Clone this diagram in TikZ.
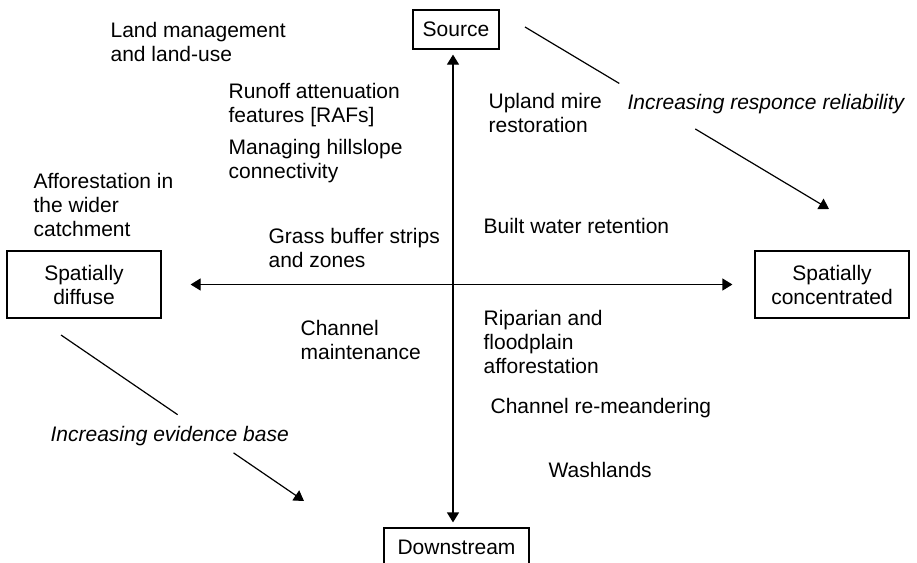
\documentclass[tikz,border=0pt]{standalone}
\usepackage{fontspec}
\setmainfont{Liberation Sans}
\usetikzlibrary{arrows.meta,calc}

\tikzset{
  endbox/.style={draw, line width=1.2pt, inner sep=0pt, align=center},
  note/.style={anchor=base west, inner sep=0pt, align=left},
  tip/.style={-{Triangle[length=10pt,width=12pt]}},
  bothtips/.style={{Triangle[length=10pt,width=12pt]}-{Triangle[length=10pt,width=12pt]}},
}

\begin{document}
\begin{tikzpicture}[x=1pt, y=-1pt, line width=1.2pt, font=\fontsize{21}{24}\selectfont]
    \clip (0,0) rectangle (917,562);

    % the four ends
    \node[endbox, minimum width=86pt, minimum height=39pt] (source) at (456,29.5) {Source};
    \node[endbox, minimum width=145pt, minimum height=39pt] (downstream) at (456.5,547.5) {Downstream};
    \node[endbox, minimum width=154pt, minimum height=67pt] (diffuse) at (84,284.5) {Spatially\\diffuse};
    \node[endbox, minimum width=154pt, minimum height=67pt] (concentrated) at (832,284.5) {Spatially\\concentrated};

    \draw[bothtips, shorten <=5pt, shorten >=5pt] ([xshift=-3pt]source.south) -- ([xshift=-3.5pt]downstream.north);
    \draw[bothtips, shorten <=29pt, shorten >=22pt] (diffuse.east) -- (concentrated.west);

    % measures (base = last line)
    \node[note] (landuse) at (110,61) {Land management\\and land-use};
    \node[note] (rafs) at (228,122) {Runoff attenuation\\features [RAFs]};
    \node[note] (hillslope) at (228,178) {Managing hillslope\\connectivity};
    \node[note] (afforest) at (33,236) {Afforestation in\\the wider\\catchment};
    \node[note] (grass) at (268,267) {Grass buffer strips\\and zones};
    \node[note] (maint) at (300,359) {Channel\\maintenance};
    \node[note] (mire) at (488,132) {Upland mire\\restoration};
    \node[note] (built) at (483,233) {Built water retention};
    \node[note] (riparian) at (483,373) {Riparian and\\floodplain\\afforestation};
    \node[note] (meander) at (490,413) {Channel re-meandering};
    \node[note] (washlands) at (548,477) {Washlands};

    % trends
    \node[note, font=\fontsize{21}{24}\selectfont\itshape] (reliab) at (627,109) {Increasing responce reliability};
    \node[note, font=\fontsize{21}{24}\selectfont\itshape] (evidence) at (50,441) {Increasing evidence base};

    \coordinate (r1) at (525,27);
    \coordinate (r2) at (829,209);
    \draw (r1) -- ($(r1)!0.31!(r2)$);
    \draw[tip] ($(r1)!0.56!(r2)$) -- (r2);

    \coordinate (e1) at (61,335);
    \coordinate (e2) at (304,501);
    \draw (e1) -- ($(e1)!0.48!(e2)$);
    \draw[tip] ($(e1)!0.71!(e2)$) -- (e2);
\end{tikzpicture}
\end{document}
